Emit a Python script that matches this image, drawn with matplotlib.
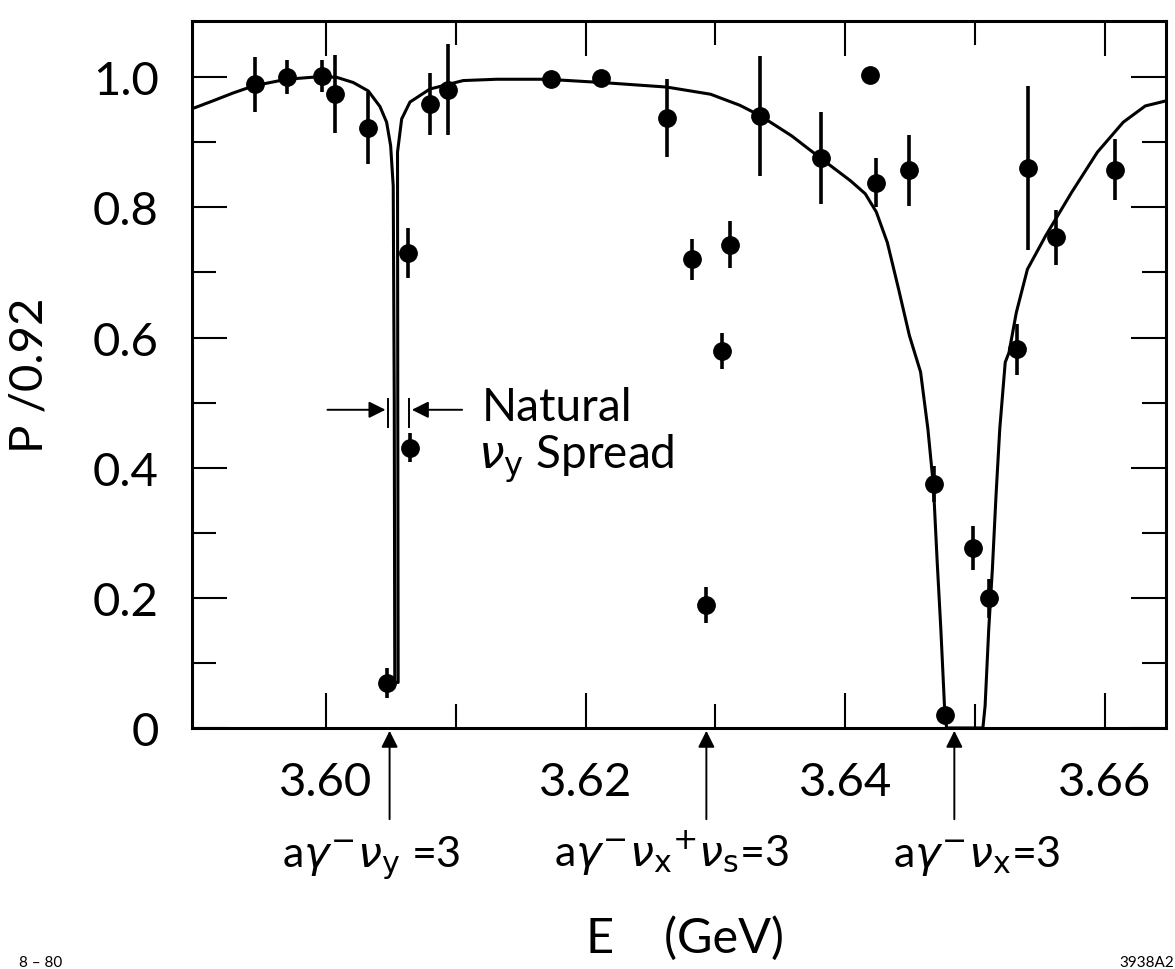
import matplotlib
matplotlib.use('Agg')
import matplotlib.pyplot as plt
from matplotlib.ticker import MultipleLocator, FixedLocator, FixedFormatter

##############################################################################

# measured points: energy (GeV), P/0.92, error
energy = [3.5945, 3.5970, 3.5997, 3.6007, 3.6032, 3.6047, 3.6063, 3.6065,
          3.6080, 3.6094, 3.6173, 3.6212, 3.6263, 3.6282, 3.6293, 3.6305,
          3.6311, 3.6334, 3.6381, 3.6419, 3.6424, 3.6449, 3.6468, 3.6477,
          3.6498, 3.6511, 3.6532, 3.6541, 3.6562, 3.6608]
pol = [0.989, 1.000, 1.002, 0.974, 0.922, 0.069, 0.730, 0.431,
       0.959, 0.981, 0.997, 0.999, 0.938, 0.720, 0.189, 0.579,
       0.743, 0.941, 0.876, 1.003, 0.838, 0.857, 0.375, 0.020,
       0.277, 0.199, 0.582, 0.861, 0.754, 0.858]
pol_err = [0.042, 0.026, 0.024, 0.060, 0.055, 0.023, 0.039, 0.023,
           0.047, 0.070, 0.0, 0.0, 0.060, 0.032, 0.027, 0.028,
           0.036, 0.092, 0.070, 0.0, 0.038, 0.055, 0.027, 0.0,
           0.034, 0.030, 0.039, 0.126, 0.042, 0.047]

# theory curve
curve_e = [3.58973, 3.59132, 3.59286, 3.59446, 3.59697, 3.59954, 3.60082,
           3.60210, 3.60326, 3.60416, 3.60467, 3.60498, 3.60518, 3.60526,
           3.60530, 3.60556, 3.60553, 3.60551, 3.60583, 3.60647, 3.60801,
           3.61057, 3.61315, 3.61700, 3.62123, 3.62624, 3.62962, 3.63188,
           3.63345, 3.63587, 3.63808, 3.64040, 3.64154, 3.64239, 3.64324,
           3.64410, 3.64494, 3.64580, 3.64636, 3.64679, 3.64708, 3.64736,
           3.64764, 3.64780, 3.65060, 3.65077, 3.65105, 3.65133, 3.65161,
           3.65190, 3.65232, 3.65261, 3.65318, 3.65403, 3.65545, 3.65743,
           3.65942, 3.66141, 3.66311, 3.66496]
curve_p = [0.952, 0.964, 0.976, 0.987, 0.997, 1.001, 1.000,
           0.992, 0.979, 0.955, 0.931, 0.895, 0.833, 0.500,
           0.070, 0.070, 0.500, 0.885, 0.936, 0.962, 0.982,
           0.995, 0.997, 0.997, 0.992, 0.985, 0.974, 0.957,
           0.941, 0.910, 0.876, 0.841, 0.821, 0.793, 0.746,
           0.675, 0.603, 0.547, 0.460, 0.372, 0.255, 0.152,
           0.034, 0.0, 0.0, 0.034, 0.152, 0.244, 0.357,
           0.460, 0.562, 0.577, 0.639, 0.705, 0.757, 0.823,
           0.885, 0.931, 0.956, 0.965]

resonances = [3.6049, 3.6293, 3.6484]
resonance_labels = [r'a$\gamma^{-}\nu_{\mathrm{y}}$ =3',
                    r'a$\gamma^{-}\nu_{\mathrm{x}}{}^{+}\nu_{\mathrm{s}}$=3',
                    r'a$\gamma^{-}\nu_{\mathrm{x}}$=3']
label_xfig = [0.316, 0.572, 0.831]

x_ticks = [3.60, 3.62, 3.64, 3.66]
x_labels = ['3.60', '3.62', '3.64', '3.66']
y_ticks = [0, 0.2, 0.4, 0.6, 0.8, 1.0]
y_labels = ['0', '0.2', '0.4', '0.6', '0.8', '1.0']

spread_lo, spread_hi = 3.6048, 3.6064

##############################################################################

plt.rcParams['font.family'] = ['Lato', 'DejaVu Sans']
plt.rcParams['mathtext.fontset'] = 'dejavusans'

fig = plt.figure(figsize=(11.75, 9.7), dpi=100)
ax = fig.add_axes([0.1634, 0.2485, 0.8289, 0.7288])

ax.plot(curve_e, curve_p, color='black', lw=2.2)
ax.errorbar(energy, pol, yerr=pol_err, fmt='o', color='black', ms=12.5,
            elinewidth=2.6, capsize=0)

ax.set_xlim(3.58968, 3.6647)
ax.set_ylim(0, 1.0865)

ax.xaxis.set_major_locator(FixedLocator(x_ticks))
ax.xaxis.set_major_formatter(FixedFormatter(x_labels))
ax.xaxis.set_minor_locator(FixedLocator([3.61, 3.63, 3.65]))
ax.yaxis.set_major_locator(FixedLocator(y_ticks))
ax.yaxis.set_major_formatter(FixedFormatter(y_labels))
ax.yaxis.set_minor_locator(MultipleLocator(0.1))

ax.tick_params(which='both', direction='in', top=True, right=True,
               width=1.5, labelsize=34)
ax.tick_params(which='major', length=25)
ax.tick_params(which='minor', length=17)
ax.tick_params(axis='x', pad=24)
ax.tick_params(axis='y', pad=24)
for s in ax.spines.values():
    s.set_linewidth(2.2)

ax.set_ylabel('P /0.92', fontsize=34, labelpad=30)

# natural spread marker
ax.annotate('', xy=(spread_lo, 0.489), xytext=(3.5999, 0.489),
            arrowprops=dict(arrowstyle='-|>', color='black', lw=1.4,
                            mutation_scale=25))
ax.annotate('', xy=(spread_hi, 0.489), xytext=(3.6107, 0.489),
            arrowprops=dict(arrowstyle='-|>', color='black', lw=1.4,
                            mutation_scale=25))
ax.plot([spread_lo, spread_lo], [0.462, 0.506], color='black', lw=1.4)
ax.plot([spread_hi, spread_hi], [0.462, 0.506], color='black', lw=1.4)
ax.text(3.6120, 0.473, 'Natural', fontsize=33)
ax.text(3.6117, 0.401, r'$\nu_{\mathrm{y}}$ Spread', fontsize=33)

# resonance arrows below the axis
for xr, lab, xf in zip(resonances, resonance_labels, label_xfig):
    ax.annotate('', xy=(xr, 0), xycoords='data',
                xytext=(xr, -0.133), textcoords=('data', 'axes fraction'),
                arrowprops=dict(arrowstyle='-|>', color='black', lw=1.4,
                                mutation_scale=25), annotation_clip=False)
    fig.text(xf, 0.106, lab, fontsize=31, ha='center', va='baseline')

fig.text(0.583, 0.018, 'E    (GeV)', fontsize=35, ha='center', va='baseline')
fig.text(0.016, 0.0, '8 \u2013 80', fontsize=11, ha='left', va='bottom')
fig.text(0.999, 0.0, '3938A2', fontsize=11, ha='right', va='bottom')

fig.savefig('out.png', dpi=100)
plt.close()
